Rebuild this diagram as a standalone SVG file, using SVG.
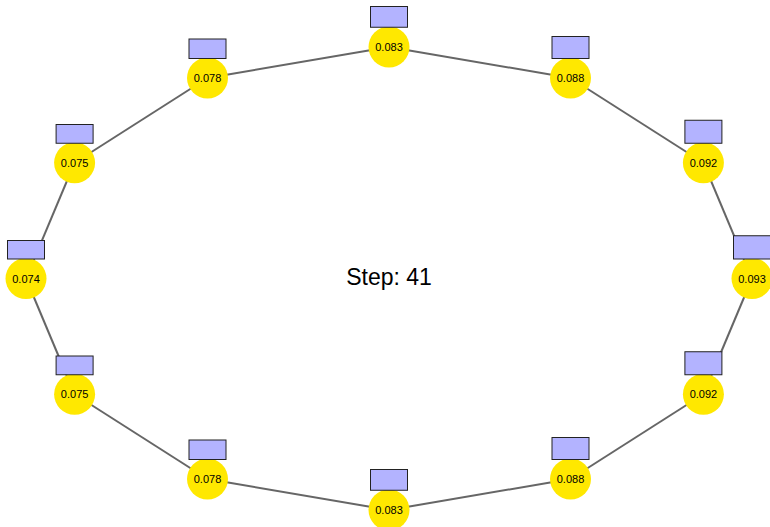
<svg xmlns="http://www.w3.org/2000/svg" width="770" height="527" viewBox="0 0 770 527">
<style>
.edge{stroke:#666;stroke-width:2;fill:none}
.c{fill:#ffe800}
.r{fill:#b3b3ff;stroke:#222;stroke-width:1}
.t{font-family:"Liberation Sans",Arial,sans-serif;font-size:11px;fill:#000;text-anchor:middle;dominant-baseline:central}
.step{font-family:"Liberation Sans",Arial,sans-serif;font-size:23px;fill:#000;text-anchor:middle;dominant-baseline:central}
</style>
<rect width="770" height="527" fill="#fff"/>
<g id="connectors">
<line class="edge" x1="389" y1="47" x2="570.5" y2="78"/>
<line class="edge" x1="570.5" y1="78" x2="703.4" y2="162.75"/>
<line class="edge" x1="703.4" y1="162.75" x2="752" y2="278.5"/>
<line class="edge" x1="752" y1="278.5" x2="703.4" y2="394.25"/>
<line class="edge" x1="703.4" y1="394.25" x2="570.5" y2="479"/>
<line class="edge" x1="570.5" y1="479" x2="389" y2="510"/>
<line class="edge" x1="389" y1="510" x2="207.5" y2="479"/>
<line class="edge" x1="207.5" y1="479" x2="74.6" y2="394.25"/>
<line class="edge" x1="74.6" y1="394.25" x2="26" y2="278.5"/>
<line class="edge" x1="26" y1="278.5" x2="74.6" y2="162.75"/>
<line class="edge" x1="74.6" y1="162.75" x2="207.5" y2="78"/>
<line class="edge" x1="207.5" y1="78" x2="389" y2="47"/>
</g>
<g id="n0" transform="translate(389,47)"><circle class="c" r="20.5"/><rect class="r" x="-18.5" y="-40.5" width="37" height="20.75"/><text class="t">0.083</text></g>
<g id="n1" transform="translate(570.5,78)"><circle class="c" r="20.5"/><rect class="r" x="-18.5" y="-41.5" width="37" height="22"/><text class="t">0.088</text></g>
<g id="n2" transform="translate(703.4,162.75)"><circle class="c" r="20.5"/><rect class="r" x="-18.5" y="-42.5" width="37" height="23"/><text class="t">0.092</text></g>
<g id="n3" transform="translate(752,278.5)"><circle class="c" r="20.5"/><rect class="r" x="-18.5" y="-42.75" width="37" height="23.25"/><text class="t">0.093</text></g>
<g id="n4" transform="translate(703.4,394.25)"><circle class="c" r="20.5"/><rect class="r" x="-18.5" y="-42.5" width="37" height="23"/><text class="t">0.092</text></g>
<g id="n5" transform="translate(570.5,479)"><circle class="c" r="20.5"/><rect class="r" x="-18.5" y="-41.5" width="37" height="22"/><text class="t">0.088</text></g>
<g id="n6" transform="translate(389,510)"><circle class="c" r="20.5"/><rect class="r" x="-18.5" y="-40.5" width="37" height="20.75"/><text class="t">0.083</text></g>
<g id="n7" transform="translate(207.5,479)"><circle class="c" r="20.5"/><rect class="r" x="-18.5" y="-39" width="37" height="19.5"/><text class="t">0.078</text></g>
<g id="n8" transform="translate(74.6,394.25)"><circle class="c" r="20.5"/><rect class="r" x="-18.5" y="-38.25" width="37" height="18.75"/><text class="t">0.075</text></g>
<g id="n9" transform="translate(26,278.5)"><circle class="c" r="20.5"/><rect class="r" x="-18.5" y="-38" width="37" height="18.5"/><text class="t">0.074</text></g>
<g id="n10" transform="translate(74.6,162.75)"><circle class="c" r="20.5"/><rect class="r" x="-18.5" y="-38.25" width="37" height="18.75"/><text class="t">0.075</text></g>
<g id="n11" transform="translate(207.5,78)"><circle class="c" r="20.5"/><rect class="r" x="-18.5" y="-39" width="37" height="19.5"/><text class="t">0.078</text></g>
<text class="step" x="389" y="277">Step: 41</text>
</svg>
